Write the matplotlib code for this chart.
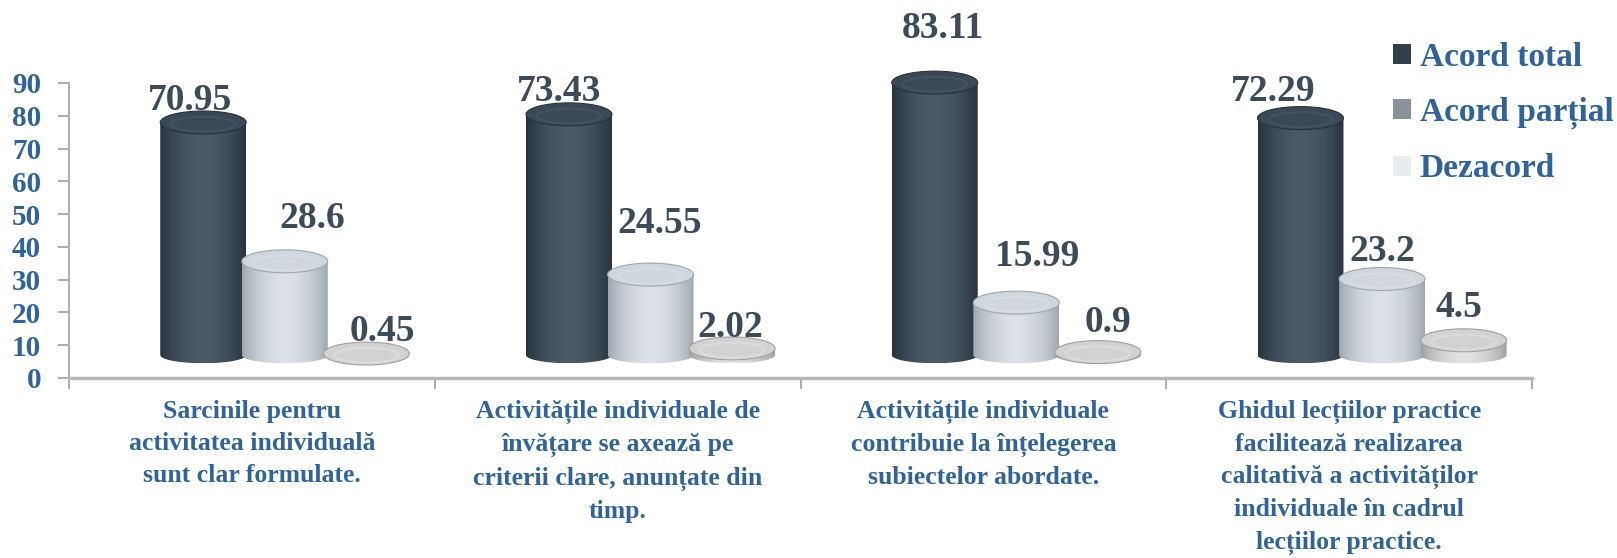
import numpy as np
import matplotlib
matplotlib.use("Agg")
import matplotlib.pyplot as plt
from matplotlib.patches import Ellipse, PathPatch, Patch
from matplotlib.path import Path
from matplotlib.colors import to_rgb

plt.rcParams.update({
    "font.family": ["Liberation Serif", "DejaVu Serif"],
    "font.weight": "bold",
})

# Data
categories = [
    "Sarcinile pentru\nactivitatea individuală\nsunt clar formulate.",
    "Activitățile individuale de\nînvățare se axează pe\ncriterii clare, anunțate din\ntimp.",
    "Activitățile individuale\ncontribuie la înțelegerea\nsubiectelor abordate.",
    "Ghidul lecțiilor practice\nfacilitează realizarea\ncalitativă a activităților\nindividuale în cadrul\nlecțiilor practice.",
]
series_names = ["Acord total", "Acord parțial", "Dezacord"]
acord_total = [70.95, 73.43, 83.11, 72.29]
acord_partial = [28.6, 24.55, 15.99, 23.2]
dezacord = [0.45, 2.02, 0.9, 4.5]
series = [acord_total, acord_partial, dezacord]

# Style
blue = "#30639b"
label_color = "#3d4a58"
edge_cols = ["#27323c", "#9ea7b0", "#a0a0a0"]
mid_cols = ["#4a5a69", "#dbe1e6", "#e2e2e2"]
cap_cols = ["#3b4856", "#cfd6dc", "#d2d2d2"]
legend_cols = ["#333f4a", "#8a939b", "#e8ecef"]
offsets = [-0.133, 0.09, 0.313]
bar_w = 0.235
floor = 7.0
rt, rb = 3.5, 2.5

# label nudges (pixels) relative to the bar top
label_dx = [[-13, 27, 16], [-10, 9, -2], [8, 21, 10], [-27, 0, -5]]
label_dy = [[15, 35, 15], [15, 44, 13], [47, 39, 22], [19, 20, 25]]

fig = plt.figure(figsize=(16.17, 5.58), dpi=100)
ax = fig.add_axes([69 / 1617, 1 - 378 / 558, 1463 / 1617, 327.8 / 558])


def gradient(c_edge, c_mid, n=64):
    t = np.linspace(0, 1, n)
    w = np.sin(np.pi * t) ** 0.8
    e, m = np.array(to_rgb(c_edge)), np.array(to_rgb(c_mid))
    return (e[None, :] * (1 - w[:, None]) + m[None, :] * w[:, None])[None, :, :]


z = 2
for i in range(len(categories)):
    for s, vals in enumerate(series):
        v = vals[i]
        cx = i + 0.5 + offsets[s]
        x0, x1 = cx - bar_w / 2, cx + bar_w / 2
        yb, yt = floor, floor + v
        ang = np.linspace(np.pi, 2 * np.pi, 60)
        xs = cx + bar_w / 2 * np.cos(ang)
        ys = yb + rb * np.sin(ang)
        verts = list(zip(xs, ys)) + [(x1, yt), (x0, yt), (x0, yb)]
        body = PathPatch(Path(verts), facecolor="none", edgecolor="none",
                         transform=ax.transData, zorder=z)
        ax.add_patch(body)
        im = ax.imshow(gradient(edge_cols[s], mid_cols[s]), aspect="auto",
                       extent=(x0, x1, yb - rb, yt), zorder=z,
                       interpolation="bilinear")
        im.set_clip_path(body)
        cap = Ellipse((cx, yt), bar_w, 2 * rt, facecolor=cap_cols[s],
                      edgecolor=edge_cols[s], linewidth=0.8, zorder=z + 1)
        ax.add_patch(cap)
        hl = Ellipse((cx, yt - rt * 0.15), bar_w * 0.75, rt * 1.3,
                     facecolor="none", edgecolor=mid_cols[s], linewidth=1.5,
                     alpha=0.6, zorder=z + 1)
        ax.add_patch(hl)
        ax.annotate(f"{v:g}", xy=(cx, yt + rt),
                    xytext=(label_dx[i][s], label_dy[i][s] - 4),
                    textcoords="offset pixels", ha="center", va="center",
                    fontsize=27, fontweight="bold", color=label_color,
                    zorder=100)
        z += 2

ax.set_xlim(0, 4)
ax.set_ylim(0, 100)
ax.set_yticks(range(0, 91, 10))
ax.tick_params(axis="y", colors="#a0a0a0", length=8, width=1.2, pad=12,
               labelsize=21, labelcolor=blue)
for t in ax.get_yticklabels():
    t.set_fontweight("bold")

ax.set_xticks([0.5, 1.5, 2.5, 3.5])
ax.set_xticklabels(categories, fontsize=18.5, color=blue, fontweight="bold",
                   linespacing=1.5, va="top")
ax.tick_params(axis="x", which="major", length=0, pad=16)
ax.set_xticks([0, 1, 2, 3, 4], minor=True)
ax.tick_params(axis="x", which="minor", length=8, width=1.2, colors="#a0a0a0")

for side in ["top", "right"]:
    ax.spines[side].set_visible(False)
ax.spines["left"].set_bounds(0, 90)
ax.spines["left"].set_color("#b0b0b0")
ax.spines["left"].set_linewidth(1.5)
ax.spines["bottom"].set_color("#b8b8b8")
ax.spines["bottom"].set_linewidth(2.5)
ax.patch.set_visible(False)

handles = [Patch(facecolor=c, edgecolor="none") for c in legend_cols]
leg = fig.legend(handles, series_names, loc="upper left",
                 bbox_to_anchor=(1393 / 1617, 1 - 42 / 558), frameon=False,
                 fontsize=24, handlelength=0.55, handleheight=0.55,
                 handletextpad=0.25, labelspacing=0.72, borderpad=0,
                 borderaxespad=0)
for t in leg.get_texts():
    t.set_color(blue)
    t.set_fontweight("bold")

fig.savefig("out.png", dpi=100)
